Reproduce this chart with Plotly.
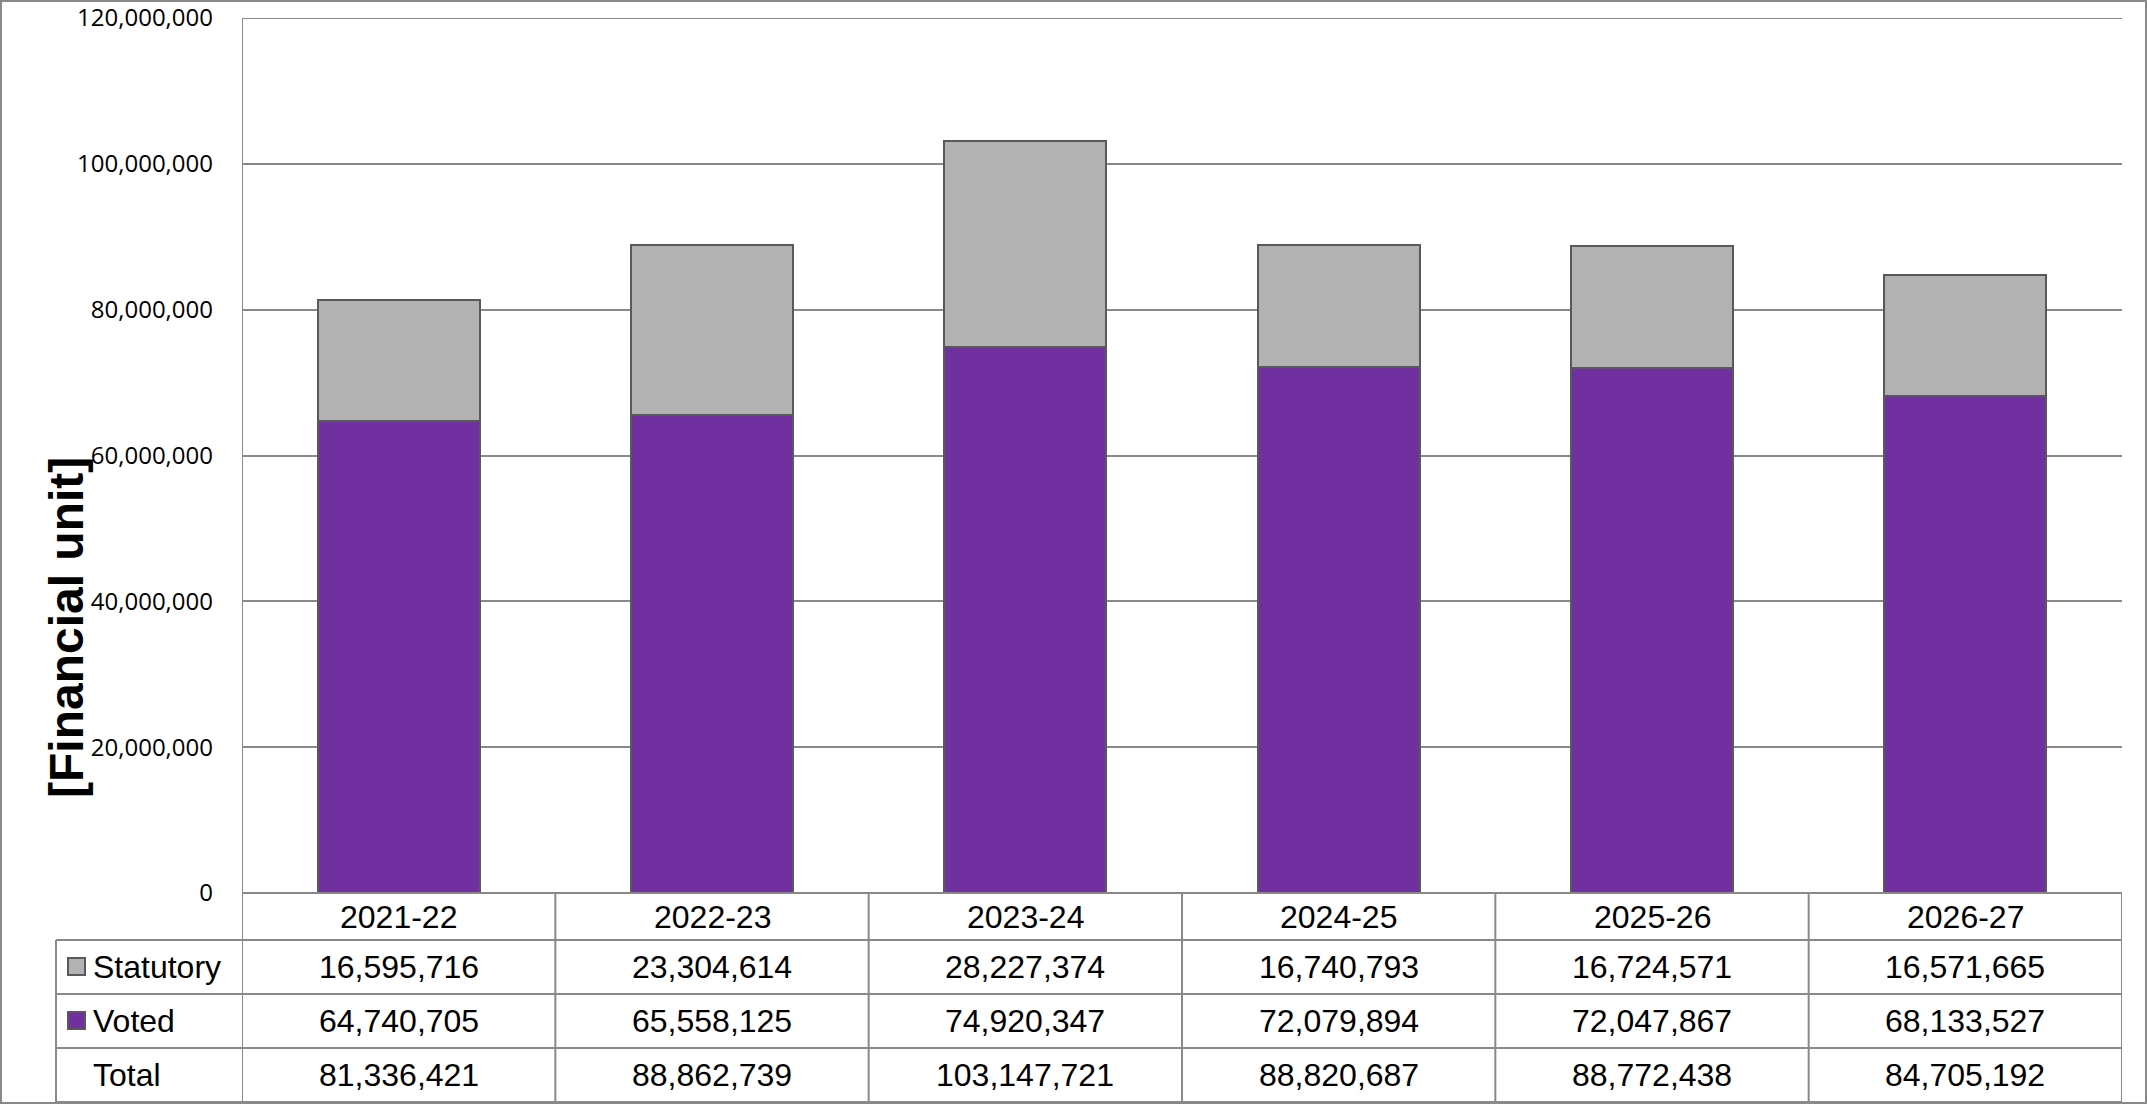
import plotly.graph_objects as go

# ---------------- data ----------------
years = ["2021-22", "2022-23", "2023-24", "2024-25", "2025-26", "2026-27"]
statutory = [16595716, 23304614, 28227374, 16740793, 16724571, 16571665]
voted = [64740705, 65558125, 74920347, 72079894, 72047867, 68133527]
totals = [81336421, 88862739, 103147721, 88820687, 88772438, 84705192]
y_ticks = [0, 20000000, 40000000, 60000000, 80000000, 100000000, 120000000]
y_title = "[Financial unit]"

# ---------------- layout geometry (pixels) ----------------
W, H = 2147, 1104
L, R, T, B = 242, 2122, 18, 893
PW, PH = R - L, B - T

def px(x):
    return (x - L) / PW

def py(y):
    return (B - y) / PH

GRID = "#898989"
EDGE = "#595959"
VOTED_C = "#7030A0"
STAT_C = "#B2B2B2"
TXT_FONT = dict(family="Liberation Sans, Arial, sans-serif", size=32, color="black")

fig = go.Figure()
fig.add_trace(go.Bar(x=years, y=voted, name="Voted", marker=dict(color=VOTED_C, line=dict(color=EDGE, width=2)), width=0.516))
fig.add_trace(go.Bar(x=years, y=statutory, name="Statutory", marker=dict(color=STAT_C, line=dict(color=EDGE, width=2)), width=0.516))

shapes = []
# outer frame
shapes.append(dict(type="rect", xref="paper", yref="paper", x0=px(1), x1=px(W - 1), y0=py(1), y1=py(H - 1),
                   line=dict(color=GRID, width=2), layer="below"))
# top gridline (120M) drawn on the y scale
shapes.append(dict(type="line", xref="paper", yref="y", x0=0, x1=1, y0=y_ticks[-1], y1=y_ticks[-1],
                   line=dict(color=GRID, width=2), layer="below"))
# vertical lines: left axis through table, and column separators in table
row_lines_y = [940, 994, 1048, 1102]
shapes.append(dict(type="line", xref="x", yref="paper", x0=-0.5, x1=-0.5, y0=py(T), y1=py(1102),
                   line=dict(color=GRID, width=2)))
for i in range(len(years)):
    shapes.append(dict(type="line", xref="x", yref="paper", x0=i + 0.5, x1=i + 0.5, y0=py(B), y1=py(1102),
                       line=dict(color=GRID, width=2)))
# horizontal table lines
shapes.append(dict(type="line", xref="paper", yref="paper", x0=0, x1=1, y0=py(B), y1=py(B),
                   line=dict(color=GRID, width=2)))
for yy in row_lines_y:
    shapes.append(dict(type="line", xref="paper", yref="paper", x0=px(56), x1=1, y0=py(yy), y1=py(yy),
                       line=dict(color=GRID, width=2)))
shapes.append(dict(type="line", xref="paper", yref="paper", x0=px(56), x1=px(56), y0=py(940), y1=py(1102),
                   line=dict(color=GRID, width=2)))
# legend swatches
for cy, col in [(967, STAT_C), (1021, VOTED_C)]:
    shapes.append(dict(type="rect", xref="paper", yref="paper", x0=px(68), x1=px(85), y0=py(cy - 9), y1=py(cy + 8),
                       fillcolor=col, line=dict(color=EDGE, width=2)))

annotations = []
header_y = (B + 940) / 2
row_centers = [(940 + 994) / 2, (994 + 1048) / 2, (1048 + 1102) / 2]
for i, yr in enumerate(years):
    annotations.append(dict(x=yr, y=py(header_y), xref="x", yref="paper", text=yr, showarrow=False,
                            font=TXT_FONT, xanchor="center", yanchor="middle"))
    for cy, vals in zip(row_centers, [statutory, voted, totals]):
        annotations.append(dict(x=yr, y=py(cy), xref="x", yref="paper", text=f"{vals[i]:,}", showarrow=False,
                                font=TXT_FONT, xanchor="center", yanchor="middle"))
for cy, lab in zip(row_centers, ["Statutory", "Voted", "Total"]):
    annotations.append(dict(x=px(91), y=py(cy), xref="paper", yref="paper", text=lab, showarrow=False,
                            font=TXT_FONT, xanchor="left", yanchor="middle"))
annotations.append(dict(x=px(67), y=py(628), xref="paper", yref="paper", text="<b>" + y_title + "</b>",
                        showarrow=False, textangle=-90, xanchor="center", yanchor="middle",
                        font=dict(family="Liberation Sans, Arial, sans-serif", size=48, color="black")))

fig.update_layout(
    width=W, height=H,
    margin=dict(l=L, r=W - R, t=T, b=H - B, pad=0, autoexpand=False),
    barmode="stack",
    bargap=0.484,
    showlegend=False,
    plot_bgcolor="white",
    paper_bgcolor="white",
    shapes=shapes,
    annotations=annotations,
    xaxis=dict(showticklabels=False, showgrid=False, showline=False, zeroline=False, ticks="",
               range=[-0.5, len(years) - 0.5], automargin=False),
    yaxis=dict(range=[0, 120000000], tickvals=y_ticks, ticktext=[f"{v:,}" for v in y_ticks],
               showgrid=True, gridcolor=GRID, gridwidth=2, zeroline=False, showline=False,
               ticks="", ticklabelstandoff=28, automargin=False,
               tickfont=dict(family="Open Sans, sans-serif", size=24, color="black")),
)

fig.write_html("out.html", config={"displayModeBar": False})
